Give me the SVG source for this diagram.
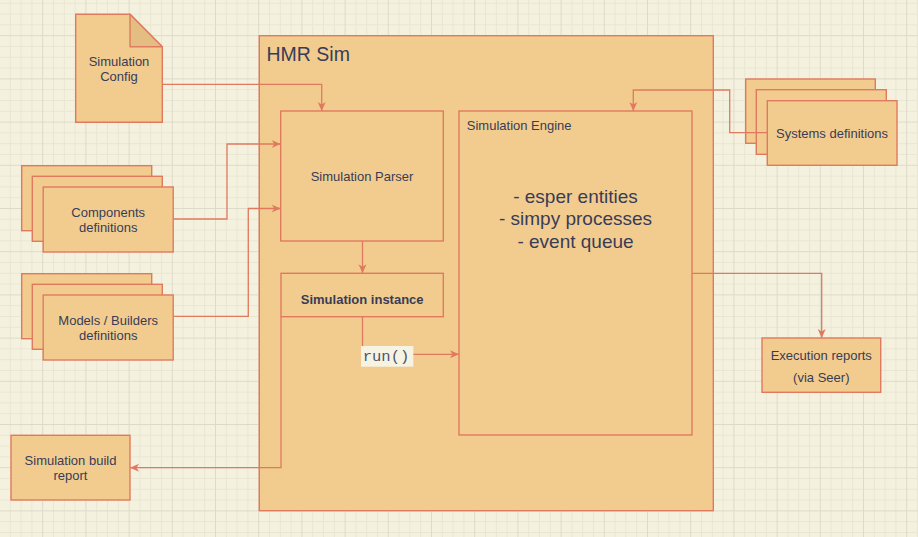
<svg xmlns="http://www.w3.org/2000/svg" width="918" height="537" viewBox="0 0 918 537">
<style>
.n{fill:#F2CC8F;stroke:#E07A5F;stroke-width:1.4}
.t{font-family:"Liberation Sans",Arial,sans-serif;font-size:13px;fill:#393C56;text-anchor:middle}
.c{fill:none;stroke:#E07A5F;stroke-width:1.3}
</style>
<defs>
<pattern id="grid" width="43.2" height="43.2" patternUnits="userSpaceOnUse" x="-1" y="-8">
<path d="M11.3,0V43.2M22.1,0V43.2M32.9,0V43.2M0,11.3H43.2M0,22.1H43.2M0,32.9H43.2" stroke="#EAE6D4" stroke-width="1" fill="none"/>
<path d="M0.5,0V43.2M0,0.5H43.2" stroke="#DEDACA" stroke-width="1" fill="none"/>
</pattern>
<marker id="arr" viewBox="0 0 10 10" markerWidth="10" markerHeight="10" refX="9" refY="5" orient="auto" markerUnits="userSpaceOnUse">
<path d="M0,1L9,5L0,9L2.5,5Z" fill="#E07A5F"/>
</marker>
</defs>
<rect width="918" height="537" fill="#F4F1DE"/>
<rect width="918" height="537" fill="url(#grid)"/>

<g id="hmr-sim">
<rect class="n" x="259.3" y="35.7" width="454" height="475"/>
<text x="266.5" y="60.5" style="font-family:'Liberation Sans',Arial,sans-serif;font-size:19.5px;fill:#393C56">HMR Sim</text>
</g>

<g id="simulation-config">
<path class="n" d="M75.7,14.3H130L162.3,46.7V122.3H75.7Z"/>
<path d="M130,14.3V46.7H162.3Z" fill="#E4BD82" stroke="#E07A5F" stroke-width="1.4" stroke-linejoin="round"/>
<text class="t" x="119" y="66">Simulation</text>
<text class="t" x="119" y="80.7">Config</text>
</g>

<g id="components-definitions">
<rect class="n" x="21.7" y="165.7" width="130" height="65"/>
<rect class="n" x="32.3" y="176.3" width="130" height="65"/>
<rect class="n" x="43.2" y="187" width="130" height="65"/>
<text class="t" x="108.2" y="217">Components</text>
<text class="t" x="108.2" y="231.7">definitions</text>
</g>

<g id="models-builders-definitions">
<rect class="n" x="21.7" y="273.7" width="130" height="65"/>
<rect class="n" x="32.3" y="284.3" width="130" height="65"/>
<rect class="n" x="43.2" y="295" width="130" height="65"/>
<text class="t" x="108.2" y="325">Models / Builders</text>
<text class="t" x="108.2" y="339.7">definitions</text>
</g>

<g id="simulation-build-report">
<rect class="n" x="11" y="435.3" width="119" height="64.7"/>
<text class="t" x="70.5" y="465">Simulation build</text>
<text class="t" x="70.5" y="480.3">report</text>
</g>

<g id="simulation-parser">
<rect class="n" x="280.7" y="111" width="162.6" height="130"/>
<text class="t" x="362" y="181.3">Simulation Parser</text>
</g>

<g id="simulation-instance">
<rect class="n" x="281" y="273.3" width="162.3" height="43.4"/>
<text class="t" x="362.2" y="303.9" style="font-weight:bold">Simulation instance</text>
</g>

<g id="simulation-engine">
<rect class="n" x="459" y="111" width="233" height="324"/>
<text class="t" x="466.8" y="130.3" style="text-anchor:start">Simulation Engine</text>
<text class="t" x="575.5" y="202.7" style="font-size:19px">- esper entities</text>
<text class="t" x="575.5" y="225.2" style="font-size:19px">- simpy processes</text>
<text class="t" x="575.5" y="247.7" style="font-size:19px">- event queue</text>
</g>

<g id="systems-definitions">
<rect class="n" x="745.7" y="79" width="129.6" height="64.3"/>
<rect class="n" x="756.3" y="89.7" width="130" height="64.6"/>
<rect class="n" x="767.3" y="100.7" width="129.7" height="64.6"/>
<text class="t" x="832" y="137.7">Systems definitions</text>
</g>

<g id="execution-reports">
<rect class="n" x="762" y="338" width="118.7" height="54.3"/>
<text class="t" x="821.3" y="360">Execution reports</text>
<text class="t" x="821.3" y="382">(via Seer)</text>
</g>

<g id="connectors">
<path class="c" marker-end="url(#arr)" d="M162.3,84.3H321.7V111"/>
<path class="c" marker-end="url(#arr)" d="M173.2,219H227V144H280.7"/>
<path class="c" marker-end="url(#arr)" d="M173.2,316.3H248.3V208.5H280.7"/>
<path class="c" marker-end="url(#arr)" d="M362.5,241V273.3"/>
<path class="c" marker-end="url(#arr)" d="M362.5,316.7V354.3H459"/>
<path class="c" marker-end="url(#arr)" d="M281,316.7V467.7H130"/>
<path class="c" marker-end="url(#arr)" d="M767.3,132.7H729.7V90H633.3V111"/>
<path class="c" marker-end="url(#arr)" d="M692,273.3H821.7V338"/>
<g id="run-label">
<rect x="361" y="346" width="52.3" height="20.7" fill="#F6F3E3"/>
<text x="386" y="361" style="font-family:'Liberation Mono','Courier New',monospace;font-size:15.5px;fill:#4E5470;text-anchor:middle">run()</text>
</g>
</g>
</svg>
